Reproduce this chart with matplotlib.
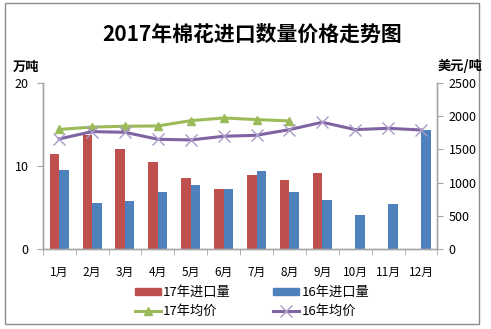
import matplotlib
matplotlib.use("Agg")
import matplotlib.pyplot as plt
import numpy as np
from matplotlib.patches import Rectangle, Patch
from matplotlib.lines import Line2D

plt.rcParams['font.family'] = ['Noto Sans CJK SC', 'DejaVu Sans']

months = ["1月", "2月", "3月", "4月", "5月", "6月", "7月", "8月", "9月", "10月", "11月", "12月"]
imp17 = [11.4, 13.75, 12.05, 10.45, 8.5, 7.2, 8.9, 8.35, 9.2]
imp16 = [9.5, 5.6, 5.75, 6.9, 7.75, 7.2, 9.45, 6.9, 5.95, 4.15, 5.45, 14.3]
price17 = [1800, 1835, 1848, 1852, 1932, 1972, 1948, 1928]
price16 = [1657, 1767, 1757, 1652, 1642, 1697, 1712, 1797, 1908, 1797, 1817, 1792]

RED = "#C0504D"
BLUE = "#4F81BD"
GREEN = "#9BBB59"
PURPLE = "#8064A2"
GRAY = "#A6A6A6"

fig = plt.figure(figsize=(4.91, 3.29), dpi=100)
fig.patches.append(Rectangle((0.0102, 0.0152), 0.9654, 0.9757, transform=fig.transFigure,
                             fill=False, edgecolor="#8C8C8C", linewidth=1.0))

ax = fig.add_axes([0.087, 0.243, 0.804, 0.505])
ax2 = ax.twinx()

x = np.arange(len(months))
w = 0.29
ax.bar(x[:len(imp17)] - w / 2, imp17, w, color=RED, zorder=2)
ax.bar(x - w / 2 + w, imp16, w, color=BLUE, zorder=2)

ax2.plot(x[:len(price17)], price17, color=GREEN, lw=2.2, marker="^", ms=6,
         markerfacecolor=GREEN, markeredgecolor=GREEN)
ax2.plot(x, price16, color=PURPLE, lw=2.2, marker="x", ms=8,
         markeredgecolor="#A99BC6", markeredgewidth=1.0)

ax.set_xlim(-0.5, 11.5)
ax.set_ylim(0, 20)
ax.set_yticks([0, 10, 20])
ax2.set_ylim(0, 2500)
ax2.set_yticks(range(0, 2501, 500))

ax.set_xticks(x)
ax.set_xticklabels(months)
ax.set_xticks(np.arange(-0.5, 12, 1), minor=True)
ax.tick_params(axis="x", which="major", length=0, pad=12, labelsize=8.5)
ax.tick_params(axis="x", which="minor", length=4, color=GRAY, direction="out")
ax.tick_params(axis="y", length=4, color=GRAY, labelsize=9, pad=6)
ax2.tick_params(axis="y", length=4, color=GRAY, labelsize=9, pad=4)

for a in (ax, ax2):
    a.spines["top"].set_visible(False)
    for s in ("left", "right", "bottom"):
        a.spines[s].set_color(GRAY)
        a.spines[s].set_linewidth(1.0)

fig.text(0.513, 0.895, "2017年棉花进口数量价格走势图", ha="center", va="center",
         fontsize=15, fontweight="bold")
fig.text(0.026, 0.797, "万吨", ha="left", va="center", fontsize=9.5, fontweight="bold")
fig.text(0.983, 0.80, "美元/吨", ha="right", va="center", fontsize=9.5, fontweight="bold")

handles = [
    Patch(color=RED, label="17年进口量"),
    Line2D([], [], color=GREEN, lw=2.2, marker="^", ms=6, label="17年均价"),
    Patch(color=BLUE, label="16年进口量"),
    Line2D([], [], color=PURPLE, lw=2.2, marker="x", ms=8, markeredgecolor="#A99BC6",
           markeredgewidth=1.0, label="16年均价"),
]
fig.legend(handles=handles, ncol=2, loc="center", bbox_to_anchor=(0.513, 0.082),
           frameon=False, fontsize=9.5, handlelength=2.0, handleheight=0.5,
           columnspacing=3.2, labelspacing=0.45, handletextpad=0.15)

fig.savefig("out.png", dpi=100)
